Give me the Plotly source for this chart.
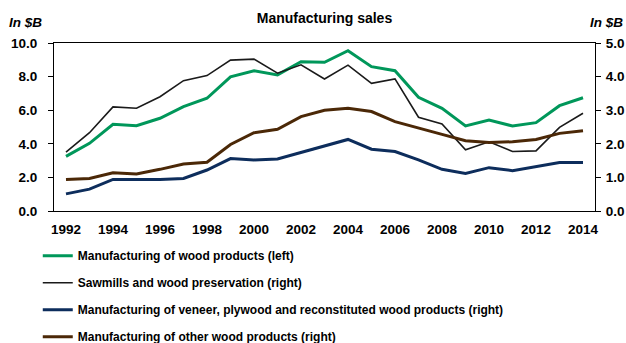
import plotly.graph_objects as go

years = list(range(1992, 2015))

# Left axis series ($B)
wood_products = [3.25, 4.03, 5.16, 5.08, 5.52, 6.21, 6.71, 7.99, 8.35, 8.10, 8.89, 8.85,
                 9.54, 8.59, 8.35, 6.77, 6.11, 5.06, 5.42, 5.06, 5.26, 6.27, 6.74]

# Right axis series ($B)
sawmills = [1.75, 2.33, 3.10, 3.06, 3.40, 3.88, 4.03, 4.49, 4.52, 4.10, 4.35, 3.93,
            4.34, 3.80, 3.93, 2.79, 2.59, 1.82, 2.06, 1.77, 1.79, 2.49, 2.91]
veneer_plywood = [0.51, 0.65, 0.94, 0.94, 0.94, 0.97, 1.22, 1.56, 1.52, 1.55, 1.74, 1.93,
                  2.13, 1.84, 1.77, 1.52, 1.24, 1.12, 1.29, 1.20, 1.32, 1.44, 1.44]
other_wood = [0.94, 0.97, 1.14, 1.10, 1.24, 1.40, 1.45, 1.98, 2.33, 2.43, 2.81, 3.00,
              3.06, 2.96, 2.66, 2.46, 2.28, 2.09, 2.04, 2.06, 2.13, 2.31, 2.39]

left_ticks = [0, 2, 4, 6, 8, 10]
right_ticks = [0, 1, 2, 3, 4, 5]
x_ticks = list(range(1992, 2015, 2))

FONT = "Liberation Sans, Arial, sans-serif"
GREEN = "#00975a"
BLACK = "#1a1a1a"
NAVY = "#0d2d5c"
BROWN = "#4b2807"

fig = go.Figure()

fig.add_trace(go.Scatter(
    x=years, y=sawmills, yaxis="y2", mode="lines",
    name="Sawmills and wood preservation (right)",
    line=dict(color=BLACK, width=1.6), legendrank=2, legendgroup="b"))
fig.add_trace(go.Scatter(
    x=years, y=other_wood, yaxis="y2", mode="lines",
    name="Manufacturing of other wood products (right)",
    line=dict(color=BROWN, width=3), legendrank=4, legendgroup="d"))
fig.add_trace(go.Scatter(
    x=years, y=veneer_plywood, yaxis="y2", mode="lines",
    name="Manufacturing of veneer, plywood and reconstituted wood products (right)",
    line=dict(color=NAVY, width=3), legendrank=3, legendgroup="c"))
fig.add_trace(go.Scatter(
    x=years, y=wood_products, mode="lines",
    name="Manufacturing of wood products (left)",
    line=dict(color=GREEN, width=3), legendrank=1, legendgroup="a"))

tickfont = dict(family=FONT, size=13.5, color="#000000", weight="bold")

fig.update_layout(
    width=626, height=343,
    margin=dict(l=54, r=31, t=43, b=132, autoexpand=False),
    paper_bgcolor="white", plot_bgcolor="white",
    font=dict(family=FONT, color="#000000"),
    showlegend=True,
    legend=dict(
        x=-0.03, xanchor="left", y=-0.18, yanchor="top",
        orientation="v", tracegroupgap=8,
        font=dict(family=FONT, size=12, color="#000000", weight="bold"),
        bgcolor="rgba(0,0,0,0)", itemwidth=30,
    ),
    title=dict(
        text="Manufacturing sales", x=0.5, xref="paper", xanchor="center",
        y=1 - 18.5 / 343, yanchor="middle",
        font=dict(family=FONT, size=14, color="#000000", weight="bold"),
    ),
    xaxis=dict(
        range=[1991.49, 2014.51], tickvals=x_ticks, ticktext=[str(v) for v in x_ticks],
        showline=True, linecolor="#000000", linewidth=1.2, mirror=True,
        ticks="outside", ticklen=6, tickcolor="rgba(0,0,0,0)",
        showgrid=False, zeroline=False, tickfont=tickfont,
    ),
    yaxis=dict(
        range=[0, 10], tickvals=left_ticks, tickformat=".1f",
        showline=True, linecolor="#000000", linewidth=1.2,
        ticks="outside", ticklen=5, tickcolor="#000000", ticklabelstandoff=8,
        showgrid=False, zeroline=False, tickfont=tickfont,
    ),
    yaxis2=dict(
        range=[0, 5], tickvals=right_ticks, tickformat=".1f",
        overlaying="y", side="right",
        showline=True, linecolor="#000000", linewidth=1.2,
        ticks="outside", ticklen=5, tickcolor="#000000", ticklabelstandoff=2,
        showgrid=False, zeroline=False, tickfont=tickfont,
    ),
    annotations=[
        dict(text="<b><i>In $B</i></b>", xref="paper", yref="paper",
             x=-0.052, y=1.125, xanchor="center", yanchor="middle", showarrow=False,
             font=dict(family=FONT, size=13.5, color="#000000")),
        dict(text="<b><i>In $B</i></b>", xref="paper", yref="paper",
             x=1.022, y=1.125, xanchor="center", yanchor="middle", showarrow=False,
             font=dict(family=FONT, size=13.5, color="#000000")),
    ],
)

fig.write_html("out.html")
